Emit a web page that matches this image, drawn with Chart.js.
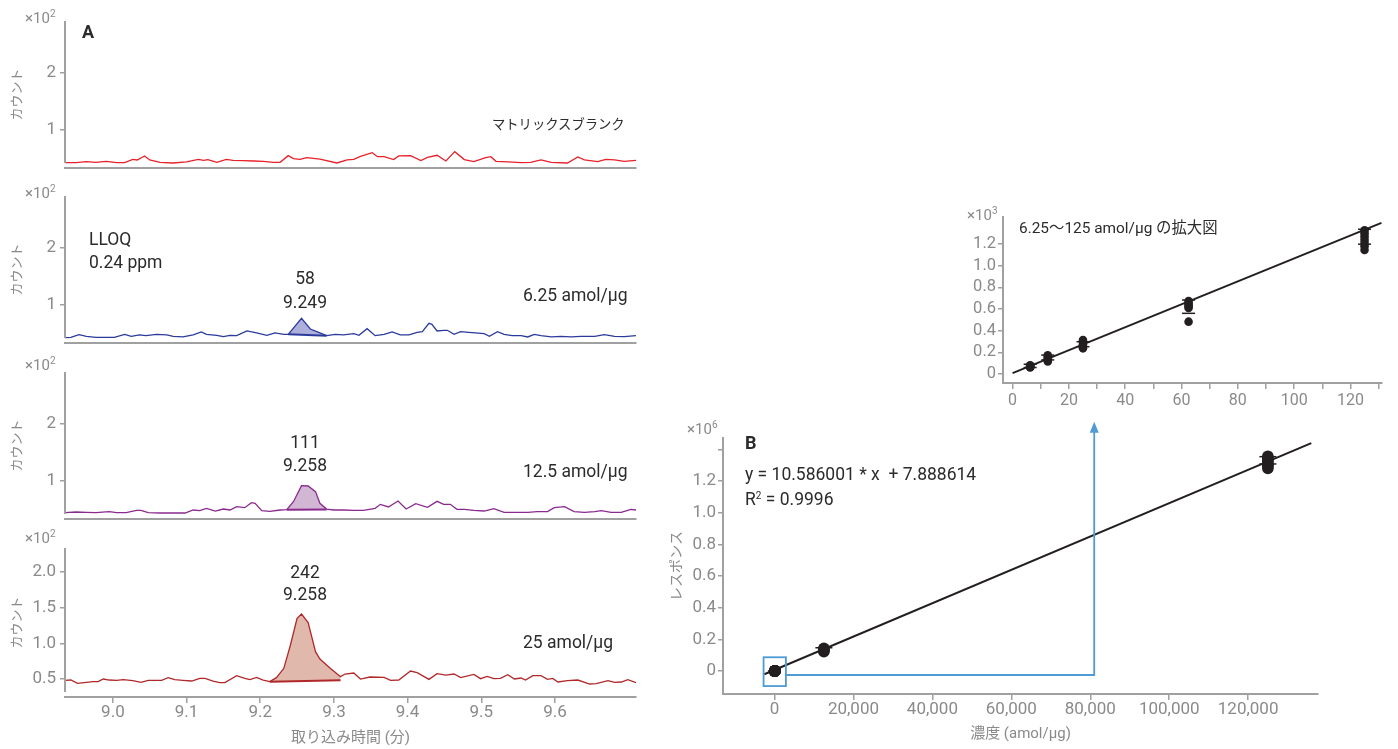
<!DOCTYPE html>
<html>
<head>
<meta charset="utf-8">
<script src="https://cdn.jsdelivr.net/npm/chart.js@4.4.1/dist/chart.umd.min.js"></script>
<style>
  body { margin: 0; background: #fff; width: 1398px; height: 749px; overflow: hidden; position: relative;
         font-family: Roboto, 'Noto Sans CJK JP', sans-serif; }
  .box { position: absolute; }
  .t { position: absolute; white-space: pre; color: #2b2b2b; font-size: 17.5px; line-height: 1; transform: translateY(-50%); }
  .c { transform: translate(-50%, -50%); }
  .exp { color: #8a8a8a; font-size: 15px; }
  .exp sup, .t sup { font-size: 10px; line-height: 0; vertical-align: 6px; }
</style>
</head>
<body>

<div class="box" style="left:0;top:0;width:640px;height:175px"><canvas id="blankChart"></canvas></div>
<div class="box" style="left:0;top:175px;width:640px;height:175px"><canvas id="lloqChart"></canvas></div>
<div class="box" style="left:0;top:350px;width:640px;height:175px"><canvas id="mid12Chart"></canvas></div>
<div class="box" style="left:0;top:525px;width:640px;height:224px"><canvas id="c25Chart"></canvas></div>
<div class="box" style="left:940px;top:190px;width:450px;height:230px"><canvas id="insetChart"></canvas></div>
<div class="box" style="left:660px;top:410px;width:670px;height:339px"><canvas id="calChart"></canvas></div>

<!-- panel A labels -->
<div class="t exp" style="left:25px;top:17.5px">×10<sup>2</sup></div>
<div class="t" style="left:82px;top:31.5px;font-weight:700;font-size:18px">A</div>
<div class="t" style="left:492px;top:125px;font-size:13.3px">マトリックスブランク</div>

<div class="t exp" style="left:25px;top:193px">×10<sup>2</sup></div>
<div class="t" style="left:89px;top:239.5px">LLOQ</div>
<div class="t" style="left:89px;top:263px">0.24 ppm</div>
<div class="t c" style="left:305px;top:279px">58</div>
<div class="t c" style="left:305px;top:302.5px">9.249</div>
<div class="t" style="left:523px;top:296px">6.25 amol/μg</div>

<div class="t exp" style="left:25px;top:365px">×10<sup>2</sup></div>
<div class="t c" style="left:305px;top:443px">111</div>
<div class="t c" style="left:305px;top:466px">9.258</div>
<div class="t" style="left:523px;top:471.5px">12.5 amol/μg</div>

<div class="t exp" style="left:25px;top:538px">×10<sup>2</sup></div>
<div class="t c" style="left:305px;top:573px">242</div>
<div class="t c" style="left:305px;top:595px">9.258</div>
<div class="t" style="left:523px;top:643px">25 amol/μg</div>

<!-- inset labels -->
<div class="t exp" style="left:967px;top:215px">×10<sup>3</sup></div>
<div class="t" style="left:1019px;top:229px;font-size:15.4px">6.25〜125 amol/μg の拡大図</div>

<!-- panel B labels -->
<div class="t exp" style="left:687px;top:429px">×10<sup>6</sup></div>
<div class="t" style="left:745px;top:443px;font-weight:700;font-size:18px">B</div>
<div class="t" style="left:745px;top:475px">y = 10.586001 * x  + 7.888614</div>
<div class="t" style="left:745px;top:500px">R<sup>2</sup> = 0.9996</div>

<script>
// ---------- chromatograms: retention time (min) / counts (×10²) ----------
const blankTime = [8.934, 8.950, 8.964, 8.977, 8.991, 9.005, 9.016, 9.027, 9.033, 9.043, 9.050, 9.064, 9.082, 9.100,
  9.116, 9.123, 9.129, 9.141, 9.154, 9.163, 9.177, 9.191, 9.204, 9.218, 9.227, 9.238, 9.245, 9.254, 9.263, 9.281,
  9.304, 9.318, 9.327, 9.336, 9.352, 9.359, 9.368, 9.381, 9.388, 9.404, 9.418, 9.427, 9.440, 9.452, 9.464, 9.477,
  9.490, 9.506, 9.513, 9.520, 9.536, 9.554, 9.567, 9.581, 9.595, 9.617, 9.631, 9.640, 9.658, 9.669, 9.681, 9.694, 9.710];
const blankCount = [0.427, 0.427, 0.444, 0.433, 0.450, 0.427, 0.427, 0.485, 0.474, 0.544, 0.474, 0.433, 0.421, 0.439,
  0.485, 0.468, 0.480, 0.433, 0.485, 0.468, 0.462, 0.456, 0.450, 0.433, 0.433, 0.550, 0.497, 0.485, 0.515, 0.490,
  0.421, 0.474, 0.485, 0.538, 0.602, 0.532, 0.532, 0.480, 0.544, 0.550, 0.462, 0.520, 0.556, 0.456, 0.620, 0.480,
  0.444, 0.515, 0.532, 0.450, 0.439, 0.427, 0.433, 0.474, 0.433, 0.421, 0.526, 0.474, 0.444, 0.485, 0.474, 0.450, 0.468];

const lloqTime = [8.934, 8.943, 8.954, 8.964, 8.977, 8.991, 9.002, 9.016, 9.025, 9.036, 9.045, 9.059, 9.073, 9.082,
  9.095, 9.109, 9.120, 9.127, 9.141, 9.150, 9.159, 9.168, 9.182, 9.195, 9.209, 9.220, 9.232, 9.238, 9.256, 9.268, 9.281,
  9.290, 9.302, 9.313, 9.327, 9.334, 9.345, 9.356, 9.368, 9.379, 9.390, 9.402, 9.413, 9.420, 9.429, 9.433, 9.440,
  9.449, 9.454, 9.463, 9.472, 9.483, 9.492, 9.504, 9.511, 9.522, 9.531, 9.542, 9.554, 9.563, 9.572, 9.581, 9.595,
  9.608, 9.622, 9.635, 9.654, 9.667, 9.681, 9.694, 9.710];
const lloqCount = [0.427, 0.433, 0.480, 0.450, 0.433, 0.433, 0.433, 0.485, 0.450, 0.474, 0.462, 0.485, 0.474, 0.450,
  0.439, 0.474, 0.526, 0.485, 0.468, 0.444, 0.468, 0.462, 0.544, 0.509, 0.468, 0.509, 0.485, 0.485, 0.766, 0.579, 0.510,
  0.462, 0.485, 0.474, 0.497, 0.468, 0.585, 0.462, 0.485, 0.526, 0.474, 0.474, 0.520, 0.532, 0.678, 0.661, 0.544,
  0.556, 0.556, 0.485, 0.532, 0.520, 0.509, 0.497, 0.450, 0.532, 0.485, 0.462, 0.462, 0.439, 0.485, 0.462, 0.439,
  0.450, 0.439, 0.450, 0.450, 0.480, 0.450, 0.444, 0.462];
const lloqPeakWindow = [9.238, 9.290];
const lloqPeakBase = [0.485, 0.462];

const mid12Time = [8.934, 8.950, 8.964, 8.977, 8.995, 9.005, 9.018, 9.032, 9.038, 9.048, 9.064, 9.082, 9.098, 9.109,
  9.118, 9.127, 9.139, 9.150, 9.159, 9.168, 9.179, 9.188, 9.193, 9.202, 9.213, 9.227, 9.236, 9.245, 9.256, 9.265,
  9.275, 9.281, 9.290, 9.300, 9.313, 9.327, 9.340, 9.356, 9.363, 9.374, 9.387, 9.398, 9.411, 9.427, 9.440, 9.449,
  9.458, 9.467, 9.477, 9.490, 9.504, 9.517, 9.531, 9.545, 9.563, 9.576, 9.590, 9.599, 9.613, 9.626, 9.640, 9.654,
  9.663, 9.676, 9.690, 9.703, 9.710];
const mid12Count = [0.444, 0.456, 0.450, 0.444, 0.462, 0.444, 0.444, 0.485, 0.485, 0.444, 0.438, 0.438, 0.438, 0.491,
  0.479, 0.520, 0.473, 0.508, 0.491, 0.549, 0.532, 0.620, 0.608, 0.479, 0.468, 0.491, 0.497, 0.637, 0.918, 0.912,
  0.813, 0.608, 0.508, 0.491, 0.491, 0.485, 0.485, 0.520, 0.590, 0.544, 0.649, 0.508, 0.602, 0.538, 0.643, 0.590,
  0.590, 0.503, 0.503, 0.485, 0.473, 0.514, 0.450, 0.450, 0.450, 0.462, 0.462, 0.532, 0.549, 0.462, 0.450, 0.462,
  0.479, 0.450, 0.450, 0.503, 0.491];
const mid12PeakWindow = [9.236, 9.290];
const mid12PeakBase = [0.497, 0.500];

const c25Time = [8.934, 8.943, 8.952, 8.964, 8.973, 8.980, 8.987, 8.995, 9.005, 9.014, 9.027, 9.038, 9.048, 9.057,
  9.066, 9.075, 9.084, 9.095, 9.107, 9.118, 9.125, 9.136, 9.145, 9.152, 9.168, 9.179, 9.186, 9.195, 9.204, 9.213,
  9.222, 9.232, 9.241, 9.250, 9.256, 9.265, 9.275, 9.281, 9.295, 9.309, 9.315, 9.327, 9.336, 9.349, 9.368, 9.377,
  9.388, 9.404, 9.413, 9.429, 9.440, 9.452, 9.463, 9.472, 9.490, 9.499, 9.508, 9.517, 9.526, 9.536, 9.545, 9.554,
  9.560, 9.570, 9.581, 9.590, 9.597, 9.604, 9.617, 9.631, 9.647, 9.656, 9.672, 9.681, 9.690, 9.699, 9.710];
const c25Count = [0.481, 0.486, 0.439, 0.453, 0.463, 0.463, 0.500, 0.486, 0.481, 0.491, 0.477, 0.453, 0.481, 0.481,
  0.481, 0.519, 0.491, 0.481, 0.472, 0.509, 0.509, 0.472, 0.449, 0.449, 0.547, 0.509, 0.491, 0.523, 0.486, 0.463,
  0.519, 0.650, 0.977, 1.350, 1.411, 1.290, 0.883, 0.780, 0.650, 0.533, 0.570, 0.584, 0.500, 0.528, 0.523, 0.481,
  0.486, 0.612, 0.589, 0.495, 0.575, 0.556, 0.570, 0.519, 0.565, 0.505, 0.537, 0.505, 0.509, 0.561, 0.500, 0.514,
  0.486, 0.547, 0.547, 0.495, 0.509, 0.458, 0.477, 0.486, 0.430, 0.435, 0.477, 0.453, 0.458, 0.491, 0.449];
const c25PeakWindow = [9.213, 9.309];
const c25PeakBase = [0.463, 0.481];

const timeTicks = [9.0, 9.1, 9.2, 9.3, 9.4, 9.5, 9.6];
const countTicks = [1, 2];
const countTicks25 = [0.5, 1.0, 1.5, 2.0];

// ---------- calibration: concentration (amol/µg) / response ----------
// zoomed range, response ×10³
const lowConc = [6.25, 12.5, 25, 62.5, 125];
const respAt6 = [0.060, 0.065, 0.070, 0.075, 0.080];
const respAt12 = [0.115, 0.130, 0.145, 0.160, 0.173];
const respAt25 = [0.237, 0.255, 0.275, 0.295, 0.314];
const respAt62 = [0.483, 0.610, 0.625, 0.640, 0.655, 0.674];
const respAt125 = [1.145, 1.180, 1.210, 1.240, 1.270, 1.300, 1.327];
const lowMarkUpper = [0.090, 0.175, 0.298, 0.683, 1.336];
const lowMarkLower = [0.060, 0.130, 0.252, 0.560, 1.198];
const insetFitX = [0, 131];
const insetFitY = [0.008, 1.395];
const insetXTicks = [0, 10, 20, 30, 40, 50, 60, 70, 80, 90, 100, 110, 120, 130];
const insetYTicks = [0, 0.2, 0.4, 0.6, 0.8, 1.0, 1.2];

// full range, response ×10⁶
const highConc = [12500, 125000];
const respAt12k = [0.122, 0.128, 0.133, 0.138, 0.143];
const respAt125k = [1.280, 1.290, 1.300, 1.310, 1.320, 1.330, 1.340, 1.350, 1.357];
const highMarks = [[12500, 0.147], [125000, 1.354], [125000, 1.308]];
const fullFitX = [-2600, 136000];
const fullFitY = [-0.02, 1.44];
const fullXTicks = [0, 20000, 40000, 60000, 80000, 100000, 120000];
const fullYTicks = [0, 0.2, 0.4, 0.6, 0.8, 1.0, 1.2, 1.4];

// blue zoom guide (data units of panel B)
const guideBoxX = [-2780, 2880];
const guideBoxY = [-0.095, 0.087];
const guideLineY = -0.025;
const guideArrowX = 81000;
const guideArrowTip = 1.575;

// ---------- styling ----------
const FONT = "Roboto, 'Noto Sans CJK JP', sans-serif";
const AXIS = '#a0a0a0';
const TICK = '#8a8a8a';
const INK = '#231f20';
const GUIDE = '#4f9bd6';

Chart.defaults.font.family = FONT;
Chart.defaults.color = TICK;

const pts = (xs, ys) => xs.map((x, i) => ({ x: x, y: ys[i] }));
const slice = (xs, ys, win) => pts(xs, ys).filter(p => p.x >= win[0] - 1e-9 && p.x <= win[1] + 1e-9);

function axis(cfg) {
  return {
    type: 'linear',
    min: cfg.min,
    max: cfg.max,
    afterFit: s => {
      if (cfg.width != null) s.width = cfg.width;
      if (cfg.height != null) s.height = cfg.height;
      // keep the plot area where the reference has it
      s.paddingTop = 0; s.paddingBottom = 0; s.paddingLeft = 0; s.paddingRight = 0;
    },
    afterBuildTicks: s => { s.ticks = (cfg.ticks || []).map(v => ({ value: v })); },
    border: { display: !cfg.shortBorder, color: AXIS, width: 2 },
    grid: { display: !!cfg.ticks, drawOnChartArea: false, drawTicks: true, tickLength: cfg.tickLength || 5, color: AXIS, lineWidth: 1.5 },
    ticks: {
      display: !!cfg.ticks,
      autoSkip: false,
      maxRotation: 0,
      font: { size: cfg.fontSize || 17 },
      color: TICK,
      padding: cfg.padding != null ? cfg.padding : 3,
      callback: cfg.fmt || (v => v)
    },
    title: cfg.title ? {
      display: true, text: cfg.title, color: TICK,
      font: { size: cfg.titleSize || 14 },
      padding: cfg.titlePad || { top: 0, bottom: 0 }
    } : { display: false }
  };
}

// chromatogram y axes stop a little above the time axis
const shortYAxis = {
  id: 'shortYAxis',
  afterDraw(chart) {
    const { ctx, chartArea } = chart;
    ctx.save();
    ctx.strokeStyle = AXIS;
    ctx.lineWidth = 2;
    ctx.beginPath();
    ctx.moveTo(chartArea.left, chartArea.top);
    ctx.lineTo(chartArea.left, chartArea.bottom - 5);
    ctx.stroke();
    ctx.restore();
  }
};

function baseOptions(padTop, padRight, scales, plugins) {
  return {
    responsive: true,
    maintainAspectRatio: false,
    animation: false,
    events: [],
    layout: { padding: { top: padTop, right: padRight, left: 0, bottom: 0 } },
    plugins: Object.assign({ legend: { display: false }, tooltip: { enabled: false } }, plugins || {}),
    scales: scales
  };
}

function tracePanel(id, time, count, color, fillColor, peak, y, x, padTop) {
  const datasets = [{
    data: pts(time, count), borderColor: color, borderWidth: 1.3, pointRadius: 0, fill: false
  }];
  if (peak) {
    datasets.push({
      data: pts(peak.window, peak.base), borderColor: color, borderWidth: 2, pointRadius: 0, fill: false
    });
    datasets.push({
      data: slice(time, count, peak.window), borderWidth: 0, pointRadius: 0,
      backgroundColor: fillColor, fill: 1
    });
  }
  return new Chart(document.getElementById(id), {
    type: 'line',
    data: { datasets: datasets },
    options: baseOptions(padTop, 4, { x: x, y: y }),
    plugins: [shortYAxis]
  });
}

const countAxis = (ticks, min, max, fmt) => axis({
  min: min, max: max, ticks: ticks, width: 65, tickLength: 5, padding: 4, fmt: fmt, shortBorder: true,
  title: 'カウント', titleSize: 13, titlePad: { top: 10, bottom: 0 }
});
const plainTimeAxis = h => axis({ min: 8.935, max: 9.71, height: h });

tracePanel('blankChart', blankTime, blankCount, '#e8202a', null, null,
  countAxis(countTicks, 0.333, 2.912), plainTimeAxis(7), 21);

tracePanel('lloqChart', lloqTime, lloqCount, '#2b3b9c', 'rgba(160,162,214,0.85)',
  { window: lloqPeakWindow, base: lloqPeakBase },
  countAxis(countTicks, 0.333, 2.912), plainTimeAxis(7), 21);

tracePanel('mid12Chart', mid12Time, mid12Count, '#8a2a8e', 'rgba(205,175,208,0.9)',
  { window: mid12PeakWindow, base: mid12PeakBase },
  countAxis(countTicks, 0.333, 2.912), plainTimeAxis(6), 22);

tracePanel('c25Chart', c25Time, c25Count, '#b0282a', 'rgba(222,180,168,0.95)',
  { window: c25PeakWindow, base: c25PeakBase },
  countAxis(countTicks25, 0.248, 2.336, v => v.toFixed(1)),
  axis({ min: 8.935, max: 9.71, ticks: timeTicks, height: 52, tickLength: 6, padding: 0,
         fmt: v => v.toFixed(1), title: '取り込み時間 (分)', titleSize: 15, titlePad: { top: 0, bottom: 2 } }),
  23);

// ---------- inset: 6.25–125 amol/µg ----------
const lowGroups = [respAt6, respAt12, respAt25, respAt62, respAt125];
const lowPoints = [];
lowGroups.forEach((g, i) => g.forEach(v => lowPoints.push({ x: lowConc[i], y: v })));
const lowMarks = lowConc.map((c, i) => ({ x: c, y: lowMarkUpper[i] }))
  .concat(lowConc.map((c, i) => ({ x: c, y: lowMarkLower[i] })));

new Chart(document.getElementById('insetChart'), {
  type: 'line',
  data: {
    datasets: [
      { data: pts(insetFitX, insetFitY), borderColor: INK, borderWidth: 2, pointRadius: 0, fill: false },
      { data: lowPoints, showLine: false, pointRadius: 4.3, pointBackgroundColor: INK, pointBorderWidth: 0 },
      { data: lowMarks, showLine: false, pointStyle: 'line', pointRadius: 6.5, pointBorderColor: INK, pointBorderWidth: 1.5 }
    ]
  },
  options: baseOptions(27, 3, {
    x: axis({ min: -3.4, max: 131.2, ticks: insetXTicks, height: 37, tickLength: 6, padding: 2, fontSize: 16,
              fmt: v => (v % 20 === 0 ? String(v) : '') }),
    y: axis({ min: -0.083, max: 1.449, ticks: insetYTicks, width: 63, tickLength: 5, padding: 2, fontSize: 16.5,
              fmt: v => (v === 0 ? '0' : v.toFixed(1)) })
  })
});

// ---------- panel B: full calibration ----------
const fullPoints = [];
lowGroups.forEach((g, i) => g.forEach(v => fullPoints.push({ x: lowConc[i], y: v / 1000 })));
respAt12k.forEach(v => fullPoints.push({ x: highConc[0], y: v }));
respAt125k.forEach(v => fullPoints.push({ x: highConc[1], y: v }));

const zoomGuide = {
  id: 'zoomGuide',
  afterDatasetsDraw(chart) {
    const { ctx, scales: { x, y } } = chart;
    const l = x.getPixelForValue(guideBoxX[0]), r = x.getPixelForValue(guideBoxX[1]);
    const t = y.getPixelForValue(guideBoxY[1]), b = y.getPixelForValue(guideBoxY[0]);
    const ax = x.getPixelForValue(guideArrowX);
    const ly = y.getPixelForValue(guideLineY);
    const tip = y.getPixelForValue(guideArrowTip);
    ctx.save();
    ctx.strokeStyle = GUIDE;
    ctx.fillStyle = GUIDE;
    ctx.lineWidth = 1.8;
    ctx.strokeRect(l, t, r - l, b - t);
    ctx.beginPath();
    ctx.moveTo(r, ly);
    ctx.lineTo(ax, ly);
    ctx.lineTo(ax, tip + 9);
    ctx.stroke();
    ctx.beginPath();
    ctx.moveTo(ax, tip);
    ctx.lineTo(ax - 4.5, tip + 11);
    ctx.lineTo(ax + 4.5, tip + 11);
    ctx.closePath();
    ctx.fill();
    ctx.restore();
  }
};

new Chart(document.getElementById('calChart'), {
  type: 'line',
  data: {
    datasets: [
      { data: pts(fullFitX, fullFitY), borderColor: INK, borderWidth: 2, pointRadius: 0, fill: false },
      { data: fullPoints, showLine: false, pointRadius: 5.8, pointBackgroundColor: INK, pointBorderWidth: 0 },
      { data: highMarks.map(m => ({ x: m[0], y: m[1] })), showLine: false, pointStyle: 'line', pointRadius: 8.5,
        pointBorderColor: INK, pointBorderWidth: 1.5 }
    ]
  },
  options: baseOptions(28, 12, {
    x: axis({ min: -13060, max: 137700, ticks: fullXTicks, height: 55, tickLength: 6, padding: 0,
              fmt: v => v.toLocaleString('en-US'), title: '濃度 (amol/μg)', titleSize: 15, titlePad: { top: 0, bottom: 6 } }),
    y: axis({ min: -0.145, max: 1.472, ticks: fullYTicks, width: 63, tickLength: 5, padding: 2,
              fmt: v => (v === 0 ? '0' : (v > 1.3 ? '' : v.toFixed(1))),
              title: 'レスポンス', titleSize: 14, titlePad: { top: 9, bottom: 0 } })
  }),
  plugins: [zoomGuide]
});
</script>
</body>
</html>
